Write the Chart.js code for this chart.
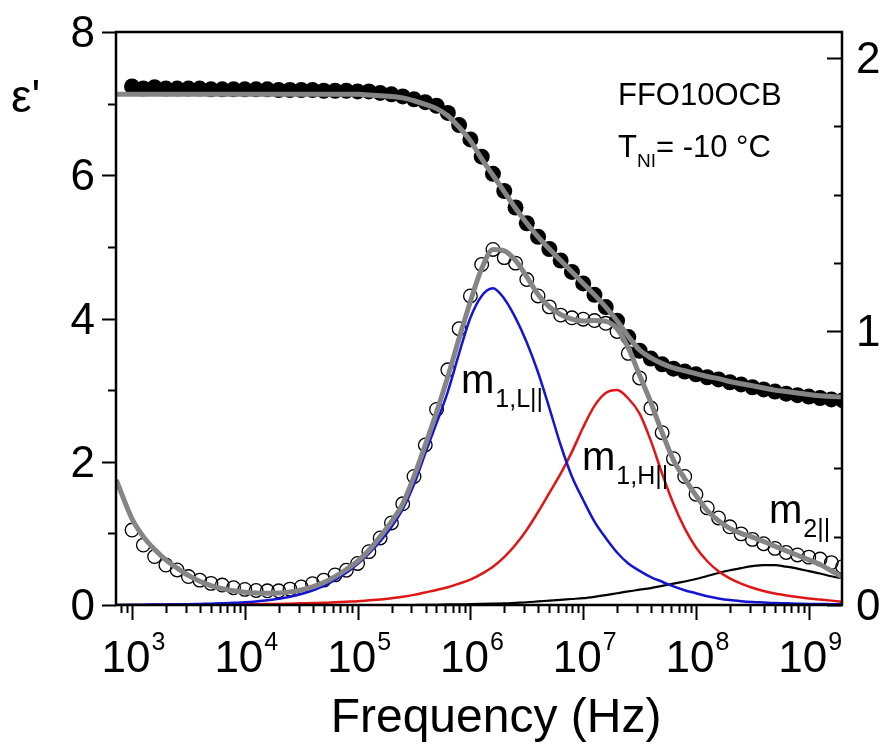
<!DOCTYPE html>
<html>
<head>
<meta charset="utf-8">
<title>FFO10OCB dielectric spectrum</title>
<script src="https://cdn.jsdelivr.net/npm/chart.js@4.4.1/dist/chart.umd.min.js"></script>
<style>
  html, body { margin: 0; padding: 0; background: #fff; }
  #wrap { width: 881px; height: 745px; }
</style>
</head>
<body>
<div id="wrap"><canvas id="chart" width="881" height="745"></canvas></div>
<script>
// measured frequencies, as log10(f / Hz), one point every 0.1 decade
const logFreq = [
  3.0, 3.1, 3.2, 3.3, 3.4, 3.5, 3.6, 3.7, 3.8, 3.9,
  4.0, 4.1, 4.2, 4.3, 4.4, 4.5, 4.6, 4.7, 4.8, 4.9,
  5.0, 5.1, 5.2, 5.3, 5.4, 5.5, 5.6, 5.7, 5.8, 5.9,
  6.0, 6.1, 6.2, 6.3, 6.4, 6.5, 6.6, 6.7, 6.8, 6.9,
  7.0, 7.1, 7.2, 7.3, 7.4, 7.5, 7.6, 7.7, 7.8, 7.9,
  8.0, 8.1, 8.2, 8.3, 8.4, 8.5, 8.6, 8.7, 8.8, 8.9,
  9.0, 9.1, 9.2, 9.3
];
// eps' (left axis), filled circles
const epsRealData = [
  7.24, 7.21, 7.23, 7.21, 7.21, 7.21, 7.21, 7.20, 7.20, 7.20,
  7.20, 7.20, 7.20, 7.19, 7.19, 7.19, 7.19, 7.18, 7.18, 7.18,
  7.17, 7.17, 7.15, 7.13, 7.10, 7.06, 7.02, 6.97, 6.87, 6.70,
  6.50, 6.26, 6.02, 5.78, 5.55, 5.33, 5.14, 4.97, 4.81, 4.65,
  4.49, 4.33, 4.16, 3.97, 3.74, 3.55, 3.44, 3.36, 3.30, 3.26,
  3.22, 3.18, 3.15, 3.11, 3.08, 3.04, 3.01, 2.98, 2.95, 2.93,
  2.91, 2.89, 2.87, 2.86
];
// eps'' (right axis), open circles
const epsImagData = [
  0.274, 0.219, 0.177, 0.146, 0.128, 0.104, 0.091, 0.079, 0.073, 0.063,
  0.057, 0.053, 0.052, 0.052, 0.058, 0.066, 0.078, 0.091, 0.110, 0.127,
  0.152, 0.195, 0.245, 0.300, 0.370, 0.470, 0.585, 0.715, 0.860, 1.010,
  1.130, 1.245, 1.300, 1.270, 1.250, 1.190, 1.130, 1.090, 1.060, 1.050,
  1.045, 1.040, 1.030, 1.000, 0.920, 0.830, 0.720, 0.630, 0.535, 0.470,
  0.405, 0.355, 0.318, 0.286, 0.260, 0.240, 0.224, 0.207, 0.192, 0.183,
  0.175, 0.168, 0.155, 0.140
];

// fit curves, sampled from the left edge of the plot
const logFit = [
  2.86,
  3.0, 3.1, 3.2, 3.3, 3.4, 3.5, 3.6, 3.7, 3.8, 3.9,
  4.0, 4.1, 4.2, 4.3, 4.4, 4.5, 4.6, 4.7, 4.8, 4.9,
  5.0, 5.1, 5.2, 5.3, 5.4, 5.5, 5.6, 5.7, 5.8, 5.9,
  6.0, 6.1, 6.2, 6.3, 6.4, 6.5, 6.6, 6.7, 6.8, 6.9,
  7.0, 7.1, 7.2, 7.3, 7.4, 7.5, 7.6, 7.7, 7.8, 7.9,
  8.0, 8.1, 8.2, 8.3, 8.4, 8.5, 8.6, 8.7, 8.8, 8.9,
  9.0, 9.1, 9.2, 9.3
];
const fitReal = [
  7.13,
  7.13, 7.13, 7.13, 7.13, 7.13, 7.13, 7.13, 7.13, 7.13, 7.13,
  7.13, 7.13, 7.13, 7.13, 7.13, 7.13, 7.13, 7.13, 7.13, 7.13,
  7.13, 7.12, 7.11, 7.10, 7.08, 7.04, 6.99, 6.93, 6.83, 6.67,
  6.48, 6.23, 6.00, 5.77, 5.54, 5.33, 5.14, 4.97, 4.81, 4.65,
  4.49, 4.33, 4.16, 3.97, 3.75, 3.56, 3.45, 3.37, 3.31, 3.27,
  3.23, 3.19, 3.16, 3.12, 3.09, 3.06, 3.03, 3.00, 2.98, 2.96,
  2.94, 2.92, 2.91, 2.90
];
const fitImag = [
  0.457,
  0.315, 0.250, 0.203, 0.165, 0.135, 0.108, 0.087, 0.071, 0.060, 0.052,
  0.047, 0.044, 0.043, 0.044, 0.048, 0.055, 0.066, 0.082, 0.104, 0.130,
  0.160, 0.200, 0.250, 0.305, 0.370, 0.470, 0.585, 0.705, 0.835, 0.975,
  1.110, 1.230, 1.300, 1.295, 1.260, 1.200, 1.135, 1.090, 1.062, 1.045,
  1.038, 1.040, 1.037, 1.010, 0.940, 0.840, 0.740, 0.630, 0.530, 0.462,
  0.400, 0.345, 0.308, 0.280, 0.262, 0.248, 0.232, 0.215, 0.198, 0.182,
  0.165, 0.148, 0.125, 0.102
];
// relaxation modes (right axis)
const modeL = [
  0.000,
  0.001, 0.001, 0.002, 0.002, 0.003, 0.003, 0.004, 0.005, 0.006, 0.008,
  0.010, 0.013, 0.017, 0.023, 0.030, 0.040, 0.053, 0.070, 0.092, 0.118,
  0.150, 0.188, 0.232, 0.285, 0.350, 0.440, 0.555, 0.665, 0.780, 0.920,
  1.050, 1.130, 1.158, 1.120, 1.050, 0.960, 0.850, 0.720, 0.585, 0.470,
  0.384, 0.305, 0.245, 0.192, 0.152, 0.125, 0.102, 0.085, 0.068, 0.054,
  0.043, 0.032, 0.024, 0.018, 0.014, 0.011, 0.009, 0.007, 0.006, 0.005,
  0.004, 0.004, 0.003, 0.003
];
const modeH = [
  0.000,
  0.000, 0.000, 0.001, 0.001, 0.001, 0.001, 0.001, 0.002, 0.002, 0.002,
  0.003, 0.003, 0.004, 0.004, 0.005, 0.006, 0.007, 0.008, 0.010, 0.012,
  0.014, 0.017, 0.020, 0.025, 0.030, 0.037, 0.046, 0.055, 0.065, 0.078,
  0.093, 0.114, 0.140, 0.175, 0.220, 0.275, 0.340, 0.410, 0.480, 0.560,
  0.650, 0.728, 0.775, 0.786, 0.755, 0.700, 0.600, 0.480, 0.370, 0.280,
  0.210, 0.160, 0.123, 0.097, 0.078, 0.063, 0.051, 0.042, 0.035, 0.029,
  0.024, 0.020, 0.016, 0.012
];
const mode2 = [
  0.000,
  0.000, 0.000, 0.000, 0.000, 0.000, 0.000, 0.000, 0.000, 0.000, 0.000,
  0.000, 0.000, 0.000, 0.000, 0.000, 0.000, 0.000, 0.000, 0.000, 0.000,
  0.000, 0.000, 0.000, 0.000, 0.000, 0.000, 0.001, 0.001, 0.002, 0.002,
  0.003, 0.004, 0.005, 0.006, 0.008, 0.010, 0.013, 0.016, 0.019, 0.022,
  0.025, 0.030, 0.036, 0.043, 0.050, 0.056, 0.062, 0.070, 0.078, 0.086,
  0.095, 0.106, 0.117, 0.127, 0.135, 0.142, 0.146, 0.146, 0.140, 0.133,
  0.124, 0.115, 0.105, 0.097
];

const leftTicks = [0, 2, 4, 6, 8];
const rightTicks = [0, 1, 2];
const xDecades = [3, 4, 5, 6, 7, 8, 9];

function pts(logs, vals) {
  return logs.map((l, i) => ({ x: Math.pow(10, l), y: vals[i] }));
}

const FONT = '"Liberation Sans", Arial, sans-serif';

// axes, ticks and text drawn on top of the plot area
const framePlugin = {
  id: 'frame',
  afterDraw(chart) {
    const ctx = chart.ctx;
    const a = chart.chartArea;
    const xs = chart.scales.x, ys = chart.scales.y, ys1 = chart.scales.y1;
    ctx.save();
    ctx.strokeStyle = '#000';
    ctx.fillStyle = '#000';
    ctx.lineWidth = 2.5;
    ctx.strokeRect(a.left, a.top, a.right - a.left, a.bottom - a.top);

    ctx.lineWidth = 2;
    ctx.beginPath();
    // x ticks (1..9 x 10^n)
    for (let n = 2; n <= 9; n++) {
      for (let m = 1; m <= 9; m++) {
        const v = m * Math.pow(10, n);
        if (v < xs.min || v > xs.max) continue;
        const px = Math.round(xs.getPixelForValue(v)) + 0.5;
        const len = m === 1 ? 15 : 8;
        ctx.moveTo(px, a.bottom);
        ctx.lineTo(px, a.bottom + len);
      }
    }
    // left ticks, outward
    for (let v = 0; v <= 8; v++) {
      const py = Math.round(ys.getPixelForValue(v)) + 0.5;
      ctx.moveTo(a.left, py);
      ctx.lineTo(a.left - (v % 2 === 0 ? 14 : 8), py);
    }
    // right ticks, inward
    for (let v = 0; v <= 2; v += 0.25) {
      const py = Math.round(ys1.getPixelForValue(v)) + 0.5;
      ctx.moveTo(a.right, py);
      ctx.lineTo(a.right - (Number.isInteger(v) ? 15 : 8), py);
    }
    ctx.stroke();

    // tick labels
    ctx.font = '44px ' + FONT;
    ctx.textBaseline = 'alphabetic';
    ctx.textAlign = 'right';
    leftTicks.forEach(v => {
      ctx.fillText(String(v), 95, ys.getPixelForValue(v) + 15);
    });
    ctx.textAlign = 'left';
    rightTicks.forEach(v => {
      ctx.fillText(String(v), 856, ys1.getPixelForValue(v) + 15);
    });
    xDecades.forEach(n => {
      const px = xs.getPixelForValue(Math.pow(10, n));
      ctx.font = '44px ' + FONT;
      const w1 = ctx.measureText('10').width;
      ctx.font = '25px ' + FONT;
      const w2 = ctx.measureText(String(n)).width;
      const x0 = px - (w1 + w2) / 2 + 1;
      ctx.font = '44px ' + FONT;
      ctx.fillText('10', x0, 672);
      ctx.font = '25px ' + FONT;
      ctx.fillText(String(n), x0 + w1 + 1, 650);
    });

    // axis titles
    ctx.font = '48px ' + FONT;
    ctx.textAlign = 'center';
    ctx.fillText('Frequency (Hz)', 496, 732);
    ctx.textAlign = 'left';
    ctx.font = '46px ' + FONT;
    ctx.fillText('\u03b5\'', 11, 112);

    // sample annotation
    ctx.font = '31px ' + FONT;
    ctx.fillText('FFO10OCB', 618, 105);
    let tx = 618;
    ctx.fillText('T', tx, 157);
    tx += ctx.measureText('T').width;
    ctx.font = '19px ' + FONT;
    ctx.fillText('NI', tx, 167);
    tx += ctx.measureText('NI').width;
    ctx.font = '31px ' + FONT;
    ctx.fillText('= -10 \u00b0C', tx, 157);

    // mode labels
    const modeLabel = (x, y, sub) => {
      ctx.font = '40px ' + FONT;
      ctx.fillText('m', x, y);
      const w = ctx.measureText('m').width;
      ctx.font = '25px ' + FONT;
      ctx.fillText(sub, x + w + 1, y + 14);
    };
    modeLabel(461, 393, '1,L||');
    modeLabel(582, 470, '1,H||');
    modeLabel(769, 523, '2||');
    ctx.restore();
  }
};

const lineDefaults = { pointRadius: 0, fill: false, cubicInterpolationMode: 'monotone', clip: 0 };

new Chart(document.getElementById('chart'), {
  type: 'line',
  data: {
    datasets: [
      Object.assign({ label: 'fit eps\'\'', data: pts(logFit, fitImag), yAxisID: 'y1',
        borderColor: '#858585', borderWidth: 5 }, lineDefaults),
      Object.assign({ label: 'fit eps\'', data: pts(logFit, fitReal), yAxisID: 'y',
        borderColor: '#858585', borderWidth: 5 }, lineDefaults),
      Object.assign({ label: 'm1,L||', data: pts(logFit, modeL), yAxisID: 'y1',
        borderColor: '#1414d2', borderWidth: 2.5 }, lineDefaults),
      Object.assign({ label: 'm1,H||', data: pts(logFit, modeH), yAxisID: 'y1',
        borderColor: '#e01616', borderWidth: 2.5 }, lineDefaults),
      Object.assign({ label: 'm2||', data: pts(logFit, mode2), yAxisID: 'y1',
        borderColor: '#000', borderWidth: 2.2 }, lineDefaults),
      {
        label: 'eps\'', data: pts(logFreq, epsRealData), yAxisID: 'y',
        showLine: false, pointRadius: 8, pointStyle: 'circle',
        pointBackgroundColor: '#000', pointBorderColor: '#000', pointBorderWidth: 0, clip: 0
      },
      {
        label: 'eps\'\'', data: pts(logFreq, epsImagData), yAxisID: 'y1',
        showLine: false, pointRadius: 6.8, pointStyle: 'circle',
        pointBackgroundColor: 'rgba(255,255,255,0)', pointBorderColor: '#000', pointBorderWidth: 1.3, clip: 0
      }
    ]
  },
  options: {
    responsive: false,
    animation: false,
    layout: { padding: { left: 116, right: 39, top: 32, bottom: 140 } },
    plugins: { legend: { display: false }, tooltip: { enabled: false } },
    scales: {
      x: { type: 'logarithmic', min: 721, max: 1.97e9, display: false },
      y: { type: 'linear', min: 0, max: 8, display: false },
      y1: { type: 'linear', min: 0, max: 2.095, display: false, position: 'right' }
    }
  },
  plugins: [framePlugin]
});
</script>
</body>
</html>
